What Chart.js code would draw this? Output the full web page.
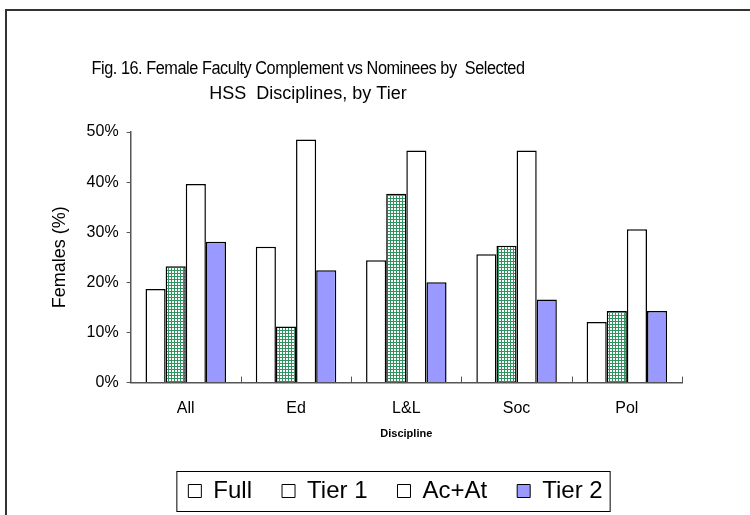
<!DOCTYPE html>
<html>
<head>
<meta charset="utf-8">
<script src="https://cdn.jsdelivr.net/npm/chart.js@4.4.1/dist/chart.umd.min.js"></script>
<style>
    body { margin: 0; background: #fff; }
    #frame { position: absolute; left: 5px; top: 9px; width: 900px; height: 700px; border: 2px solid #333; }
    #wrap { position: absolute; left: 0; top: 0; width: 750px; height: 515px; }
</style>
</head>
<body>
<div id="frame"></div>
<div id="wrap"><canvas id="bar-chart" width="750" height="515"></canvas></div>
<script>
// chart data
const disciplines = ["All", "Ed", "L&L", "Soc", "Pol"];
const fullValues = [18.7, 27.1, 24.4, 25.6, 12.1];
const tier1Values = [23.2, 11.2, 37.7, 27.3, 14.3];
const acAtValues = [39.6, 48.5, 46.3, 46.3, 30.6];
const tier2Values = [28.1, 22.4, 20.0, 16.6, 14.3];
const yTicks = [0, 10, 20, 30, 40, 50];

const titleLines = ["Fig. 16. Female Faculty Complement vs Nominees by  Selected", "HSS  Disciplines, by Tier"];

// green checkered fill for Tier 1
function makePattern() {
    const c = document.createElement("canvas");
    c.width = 3;
    c.height = 3;
    const g = c.getContext("2d");
    g.fillStyle = "#2f9460";
    g.fillRect(0, 0, 3, 3);
    g.fillStyle = "#ffffff";
    g.fillRect(1, 1, 2, 2);
    return g.createPattern(c, "repeat");
}

const font = "'Liberation Sans', Arial, sans-serif";

// title is drawn by hand because it sits left of the plot centre
const titlePlugin = {
    id: "leftTitle",
    afterDraw(chart) {
        const ctx = chart.ctx;
        ctx.save();
        ctx.fillStyle = "#000";
        ctx.font = "18px " + font;
        ctx.textAlign = "center";
        ctx.textBaseline = "alphabetic";
        ctx.letterSpacing = "-0.5px";
        ctx.fillText(titleLines[0], 308, 74, 433);
        ctx.letterSpacing = "0px";
        ctx.fillText(titleLines[1], 308, 99);
        ctx.restore();
    }
};

// legend sits a bit right of the plot centre in the original
const legendShift = 32;

// small tick marks above the x axis at category borders + box round legend
const extrasPlugin = {
    id: "extras",
    afterLayout(chart) {
        chart.legend.left += legendShift;
        chart.legend.right += legendShift;
    },
    afterDraw(chart) {
        const ctx = chart.ctx;
        const x = chart.scales.x;
        ctx.save();
        ctx.strokeStyle = "#555";
        ctx.lineWidth = 1;
        for (let i = 1; i <= disciplines.length; i++) {
            const px = Math.round(x.left + i * x.width / disciplines.length) + 0.5;
            ctx.beginPath();
            ctx.moveTo(px, x.top);
            ctx.lineTo(px, x.top - 6);
            ctx.stroke();
        }
        const boxes = chart.legend.legendHitBoxes;
        if (boxes && boxes.length) {
            const first = boxes[0];
            const last = boxes[boxes.length - 1];
            const mid = first.top + first.height / 2;
            ctx.strokeStyle = "#000";
            ctx.strokeRect(first.left - 11.5, Math.round(mid - 20) + 0.5, last.left + last.width - first.left + 19, 40);
        }
        ctx.restore();
    }
};

const ctx = document.getElementById("bar-chart").getContext("2d");
const greenPattern = makePattern();

function makeSet(label, data, fill) {
    return {
        label: label,
        data: data,
        backgroundColor: fill,
        borderColor: "#000",
        borderWidth: 1.5,
        borderSkipped: "bottom",
        categoryPercentage: 0.73,
        barPercentage: 1.0
    };
}

new Chart(ctx, {
    type: "bar",
    data: {
        labels: disciplines,
        datasets: [
            makeSet("Full", fullValues, "#ffffff"),
            makeSet("Tier 1", tier1Values, greenPattern),
            makeSet("Ac+At", acAtValues, "#ffffff"),
            makeSet("Tier 2", tier2Values, "#9999ff")
        ]
    },
    options: {
        responsive: false,
        animation: false,
        layout: { padding: { top: 132, left: 45, right: 68, bottom: 2 } },
        plugins: {
            title: { display: false },
            tooltip: { enabled: false },
            legend: {
                position: "bottom",
                labels: {
                    color: "#000",
                    font: { family: font, size: 24 },
                    boxWidth: 13,
                    boxHeight: 13,
                    padding: 30,
                    generateLabels(chart) {
                        const items = Chart.defaults.plugins.legend.labels.generateLabels(chart);
                        items.forEach(function (it, i) {
                            it.fillStyle = i === 3 ? "#9999ff" : "#ffffff";
                            it.strokeStyle = "#000";
                            it.lineWidth = 1;
                        });
                        return items;
                    }
                }
            }
        },
        scales: {
            x: {
                grid: { display: false },
                border: { display: true, color: "#555", width: 1.5 },
                ticks: { color: "#000", font: { family: font, size: 16 }, padding: 8 },
                title: { display: true, text: "Discipline", color: "#000", font: { family: font, size: 11, weight: "bold" }, padding: { top: 2, bottom: 8 } }
            },
            y: {
                min: 0,
                max: 50,
                afterBuildTicks(axis) {
                    axis.ticks = yTicks.map(function (v) { return { value: v }; });
                },
                grid: { drawOnChartArea: false, tickLength: 4, color: "#555" },
                border: { display: true, color: "#555", width: 1.5 },
                ticks: {
                    color: "#000",
                    font: { family: font, size: 16 },
                    padding: 8,
                    callback: function (v) { return v + "%"; }
                },
                title: { display: true, text: "Females (%)", color: "#000", font: { family: font, size: 18 }, padding: { bottom: 8 } }
            }
        }
    },
    plugins: [titlePlugin, extrasPlugin]
});
</script>
</body>
</html>
